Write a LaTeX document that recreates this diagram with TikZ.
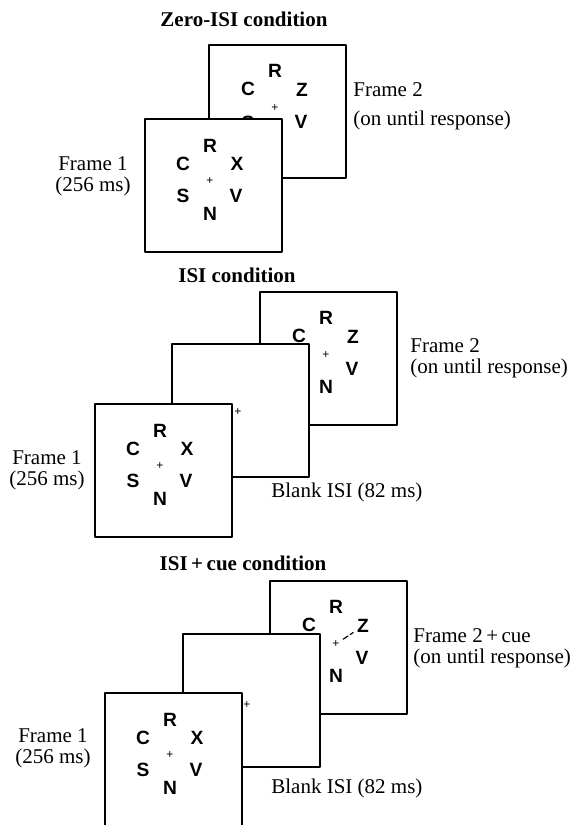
\documentclass[tikz,border=0pt]{standalone}
\usepackage{fontspec}
\setmainfont{Liberation Serif}
\setsansfont{Liberation Sans}

% letter layout of a display, relative to its top left corner
\newcommand\lettersA{c/C/38/45,r/R/65/27,x/X/92/45,s/S/38/77,v/V/91/77,n/N/65/95}
\newcommand\lettersB{c/C/39/44,r/R/66/26,z/Z/93/45,s/S/39/78,v/V/92/77,n/N/66/95}

\begin{document}
\begin{tikzpicture}[x=0.5pt,y=-0.5pt,line cap=round,line join=round,
  frame/.style={draw,fill=white,line width=0.6pt,anchor=north west,inner sep=0pt,outer sep=0pt,
    minimum width=68.5pt,minimum height=66.5pt},
  letter/.style={font=\sffamily\bfseries\fontsize{9.6}{9.6}\selectfont,inner sep=0.5pt},
  fix/.style={font=\sffamily\fontsize{6}{6}\selectfont,inner sep=0pt},
  lbl/.style={font=\fontsize{10.5}{10.5}\selectfont,inner sep=0pt},
  ttl/.style={font=\bfseries\fontsize{10.5}{10.5}\selectfont,inner sep=0pt},
  cue/.style={line width=0.6pt,dash pattern=on 2.8pt off 1.4pt}]
  \clip (0,0) rectangle (579,825);
  % zero-ISI condition
  \node[ttl] (title1) at (244,19) {Zero-ISI condition};
  \begin{scope}[shift={(209,45)}]
    \node[frame] (zsecond) at (0,0) {};
    \foreach \n/\t/\px/\py in \lettersB
      \node[letter] (zsecond\n) at (\px,\py) {\t};
    \node[fix] (zsecondfix) at (66,63) {+};
  \end{scope}
  \begin{scope}[shift={(145,119)}]
    \node[frame] (zfirst) at (0,0) {};
    \foreach \n/\t/\px/\py in \lettersA
      \node[letter] (zfirst\n) at (\px,\py) {\t};
    \node[fix] (zfirstfix) at (65,62) {+};
  \end{scope}
  \node[lbl,align=center] (zlabel1) at (93,176) {Frame 1\\(256 ms)};
  \node[lbl,align=left,anchor=west] (zlabel2) at (353,106) {Frame 2\\[4pt](on until response)};
  % ISI condition
  \node[ttl] (title2) at (237,275) {ISI condition};
  \begin{scope}[shift={(260,292)}]
    \node[frame] (isecond) at (0,0) {};
    \foreach \n/\t/\px/\py in \lettersB
      \node[letter] (isecond\n) at (\px,\py) {\t};
    \node[fix] (isecondfix) at (66,63) {+};
  \end{scope}
  \begin{scope}[shift={(172,344)}]
    \node[frame] (iblank) at (0,0) {};
    \node[fix] (iblankfix) at (66,68) {+};
  \end{scope}
  \begin{scope}[shift={(95,404)}]
    \node[frame] (ifirst) at (0,0) {};
    \foreach \n/\t/\px/\py in \lettersA
      \node[letter] (ifirst\n) at (\px,\py) {\t};
    \node[fix] (ifirstfix) at (65,62) {+};
  \end{scope}
  \node[lbl,align=center] (ilabel1) at (47,470) {Frame 1\\(256 ms)};
  \node[lbl,align=left,anchor=west] (ilabel2) at (410,358) {Frame 2\\(on until response)};
  \node[lbl,anchor=west] (ilabel3) at (271,492) {Blank ISI (82 ms)};
  % ISI + cue condition
  \node[ttl] (title3) at (243,563) {ISI\,+\,cue condition};
  \begin{scope}[shift={(270,581)}]
    \node[frame] (csecond) at (0,0) {};
    \foreach \n/\t/\px/\py in \lettersB
      \node[letter] (csecond\n) at (\px,\py) {\t};
    \node[fix] (csecondfix) at (66,63) {+};
  \end{scope}
  \draw[cue,shorten <=2pt,shorten >=1.5pt] (csecondfix) -- (csecondz);
  \begin{scope}[shift={(183,634)}]
    \node[frame] (cblank) at (0,0) {};
    \node[fix] (cblankfix) at (64,71) {+};
  \end{scope}
  \begin{scope}[shift={(105,693)}]
    \node[frame] (cfirst) at (0,0) {};
    \foreach \n/\t/\px/\py in \lettersA
      \node[letter] (cfirst\n) at (\px,\py) {\t};
    \node[fix] (cfirstfix) at (65,62) {+};
  \end{scope}
  \node[lbl,align=center] (clabel1) at (53,748) {Frame 1\\(256 ms)};
  \node[lbl,align=left,anchor=west] (clabel2) at (413,648) {Frame 2\,+\,cue\\(on until response)};
  \node[lbl,anchor=west] (clabel3) at (271,788) {Blank ISI (82 ms)};
\end{tikzpicture}
\end{document}
